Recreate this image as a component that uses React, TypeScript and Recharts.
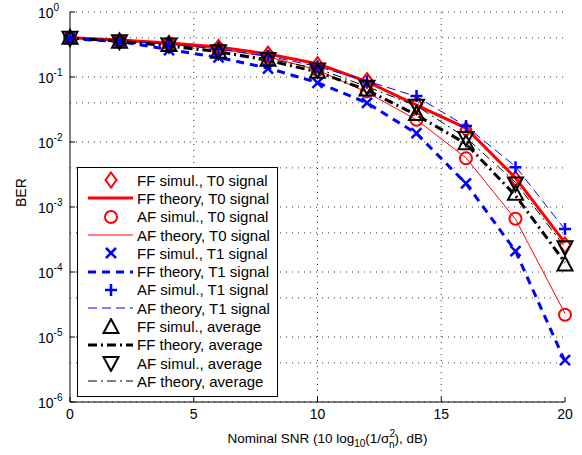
import { LineChart, Line, XAxis, YAxis, CartesianGrid, Legend } from "recharts";

const snr = [0, 2, 4, 6, 8, 10, 12, 14, 16, 18, 20];

const ffSimT0 = [0.4, 0.36, 0.33, 0.285, 0.225, 0.155, 0.088, 0.038, 0.0155, 0.0027, 2.6e-4];
const ffThT0 = [0.4, 0.37, 0.333, 0.29, 0.226, 0.16, 0.085, 0.037, 0.0164, 0.0028, 2.8e-4];
const afSimT0 = [0.4, 0.355, 0.32, 0.27, 0.205, 0.128, 0.06, 0.022, 0.0056, 6.6e-4, 2.2e-5];
const afThT0 = [0.4, 0.355, 0.32, 0.27, 0.205, 0.128, 0.058, 0.022, 0.0057, 6.5e-4, 2.3e-5];
const ffSimT1 = [0.39, 0.35, 0.26, 0.2, 0.135, 0.081, 0.04, 0.0137, 0.0023, 2.1e-4, 4.4e-6];
const ffThT1 = [0.39, 0.35, 0.265, 0.2, 0.137, 0.082, 0.04, 0.0135, 0.0023, 2.1e-4, 4.2e-6];
const afSimT1 = [0.4, 0.36, 0.32, 0.27, 0.21, 0.145, 0.085, 0.051, 0.0176, 0.0041, 4.6e-4];
const afThT1 = [0.4, 0.36, 0.32, 0.27, 0.21, 0.145, 0.087, 0.05, 0.0175, 0.0042, 4.5e-4];
const ffSimAvg = [0.4, 0.35, 0.31, 0.245, 0.185, 0.12, 0.064, 0.027, 0.0096, 0.0016, 1.3e-4];
const ffThAvg = [0.4, 0.355, 0.3, 0.245, 0.18, 0.12, 0.063, 0.026, 0.0094, 0.0015, 1.4e-4];
const afSimAvg = [0.4, 0.355, 0.315, 0.25, 0.19, 0.13, 0.071, 0.036, 0.0115, 0.0023, 2.4e-4];
const afThAvg = [0.4, 0.355, 0.315, 0.25, 0.19, 0.135, 0.071, 0.036, 0.0116, 0.0024, 2.4e-4];

const yTicks = [1e-6, 1e-5, 1e-4, 1e-3, 1e-2, 1e-1, 1];
const xTicks = [0, 5, 10, 15, 20];

const minorY: number[] = [];
for (let k = -6; k < 0; k++) {
  for (let m = 1; m <= 9; m++) minorY.push(m * Math.pow(10, k));
}
minorY.push(1);

const RED = "#ff0000";
const BLUE = "#0000ff";
const BLACK = "#000000";
const FONT = "'Liberation Sans', Arial, sans-serif";

type Kind = "diamond" | "circle" | "x" | "plus" | "up" | "down";

const series: {
  key: string;
  name: string;
  color: string;
  values: number[];
  marker?: Kind;
  width?: number;
  dash?: string;
}[] = [
  { key: "ffSimT0", name: "FF simul., T0 signal", color: RED, values: ffSimT0, marker: "diamond" },
  { key: "ffThT0", name: "FF theory, T0 signal", color: RED, values: ffThT0, width: 3 },
  { key: "afSimT0", name: "AF simul., T0 signal", color: RED, values: afSimT0, marker: "circle" },
  { key: "afThT0", name: "AF theory, T0 signal", color: RED, values: afThT0, width: 1 },
  { key: "ffSimT1", name: "FF simul., T1 signal", color: BLUE, values: ffSimT1, marker: "x" },
  { key: "ffThT1", name: "FF theory, T1 signal", color: BLUE, values: ffThT1, width: 3, dash: "8 6" },
  { key: "afSimT1", name: "AF simul., T1 signal", color: BLUE, values: afSimT1, marker: "plus" },
  { key: "afThT1", name: "AF theory, T1 signal", color: BLUE, values: afThT1, width: 1, dash: "9 5" },
  { key: "ffSimAvg", name: "FF simul., average", color: BLACK, values: ffSimAvg, marker: "up" },
  { key: "ffThAvg", name: "FF theory, average", color: BLACK, values: ffThAvg, width: 3, dash: "9 4 2 4" },
  { key: "afSimAvg", name: "AF simul., average", color: BLACK, values: afSimAvg, marker: "down" },
  { key: "afThAvg", name: "AF theory, average", color: BLACK, values: afThAvg, width: 1, dash: "9 4 2 4" },
];

const data = snr.map((x, i) => {
  const row: any = { snr: x };
  series.forEach((s) => (row[s.key] = s.values[i]));
  return row;
});

function Mark({ kind, cx, cy, color }: { kind: Kind; cx: number; cy: number; color: string }) {
  const p = { fill: "none", stroke: color, strokeWidth: 2 };
  switch (kind) {
    case "diamond":
      return <polygon {...p} points={`${cx},${cy - 7.5} ${cx + 5.5},${cy} ${cx},${cy + 7.5} ${cx - 5.5},${cy}`} />;
    case "circle":
      return <circle {...p} cx={cx} cy={cy} r={6} />;
    case "x":
      return (
        <g {...p} strokeWidth={2.5}>
          <line x1={cx - 5} y1={cy - 5} x2={cx + 5} y2={cy + 5} />
          <line x1={cx - 5} y1={cy + 5} x2={cx + 5} y2={cy - 5} />
        </g>
      );
    case "plus":
      return (
        <g {...p} strokeWidth={2.5}>
          <line x1={cx - 6} y1={cy} x2={cx + 6} y2={cy} />
          <line x1={cx} y1={cy - 6} x2={cx} y2={cy + 6} />
        </g>
      );
    case "up":
      return <polygon {...p} points={`${cx},${cy - 8} ${cx + 7.5},${cy + 6} ${cx - 7.5},${cy + 6}`} />;
    case "down":
      return <polygon {...p} points={`${cx - 7.5},${cy - 6} ${cx + 7.5},${cy - 6} ${cx},${cy + 8}`} />;
  }
  return null;
}

function YTick({ x, y, payload }: any) {
  const e = Math.round(Math.log10(payload.value));
  return (
    <text x={x - 25} y={y + 6} fill="#000" fontSize={14} fontFamily={FONT}>
      10
      <tspan dy={-7} fontSize={10}>
        {e}
      </tspan>
    </text>
  );
}

function XLabel({ viewBox }: any) {
  const cx = viewBox.x + viewBox.width / 2;
  return (
    <text x={cx + 10} y={viewBox.y + 41} textAnchor="middle" fill="#000" fontSize={13.5} fontFamily={FONT}>
      Nominal SNR (10 log
      <tspan dy={4} fontSize={10}>10</tspan>
      <tspan dy={-4}>(1/σ</tspan>
      <tspan dy={-6} fontSize={10}>2</tspan>
      <tspan dx={-6} dy={11} fontSize={10}>n</tspan>
      <tspan dy={-5}>), dB)</tspan>
    </text>
  );
}

function LegendBox() {
  return (
    <div
      style={{
        background: "#fff",
        border: "1px solid #000",
        width: 201,
        padding: "3px 0 5px 0",
        fontFamily: FONT,
        fontSize: 15,
        color: "#000",
        boxSizing: "border-box",
      }}
    >
      {series.map((s) => (
        <div key={s.key} style={{ display: "flex", alignItems: "center", height: 18.3 }}>
          <svg width={59} height={18} style={{ flex: "none" }}>
            {s.marker ? (
              <Mark kind={s.marker} cx={33} cy={9} color={s.color} />
            ) : (
              <line x1={10} y1={9} x2={55} y2={9} stroke={s.color} strokeWidth={s.width} strokeDasharray={s.dash} />
            )}
          </svg>
          <span style={{ whiteSpace: "nowrap" }}>{s.name}</span>
        </div>
      ))}
    </div>
  );
}

export default function App() {
  return (
    <div style={{ position: "absolute", left: 0, top: 0, background: "#fff" }}>
      <LineChart
        width={582}
        height={455}
        data={data}
        margin={{ top: 12, right: 17, bottom: 0, left: 0 }}
        style={{ fontFamily: FONT }}
      >
        <CartesianGrid
          horizontalValues={minorY}
          verticalValues={[5, 10, 15]}
          stroke="#333"
          strokeDasharray="1 5"
        />
        <XAxis
          dataKey="snr"
          type="number"
          domain={[0, 20]}
          ticks={xTicks}
          height={53}
          stroke="#000"
          tickSize={-5}
          tickMargin={12}
          tick={{ fill: "#000", fontSize: 14 }}
          label={<XLabel />}
        />
        <XAxis xAxisId="top" orientation="top" type="number" domain={[0, 20]} ticks={xTicks} height={0} stroke="#000" tick={false} />
        <YAxis
          scale="log"
          type="number"
          domain={[1e-6, 1]}
          allowDataOverflow
          ticks={yTicks}
          width={70}
          stroke="#000"
          tickSize={-5}
          tickMargin={12}
          tick={<YTick />}
          label={{ value: "BER", angle: -90, position: "insideLeft", dx: 16, fill: "#000", fontSize: 14 }}
        />
        <YAxis yAxisId="right" orientation="right" scale="log" type="number" domain={[1e-6, 1]} ticks={yTicks} width={0} stroke="#000" tick={false} />
        <Legend
          layout="vertical"
          align="center"
          verticalAlign="middle"
          content={() => <LegendBox />}
          wrapperStyle={{ left: 77, top: 167, width: 201 }}
        />
        {series.map((s) =>
          s.marker ? (
            <Line
              key={s.key}
              dataKey={s.key}
              stroke="none"
              isAnimationActive={false}
              activeDot={false}
              dot={(p: any) => <Mark key={p.index} kind={s.marker as Kind} cx={p.cx} cy={p.cy} color={s.color} />}
            />
          ) : (
            <Line
              key={s.key}
              dataKey={s.key}
              type="linear"
              stroke={s.color}
              strokeWidth={s.width}
              strokeDasharray={s.dash}
              dot={false}
              activeDot={false}
              isAnimationActive={false}
            />
          )
        )}
      </LineChart>
    </div>
  );
}
